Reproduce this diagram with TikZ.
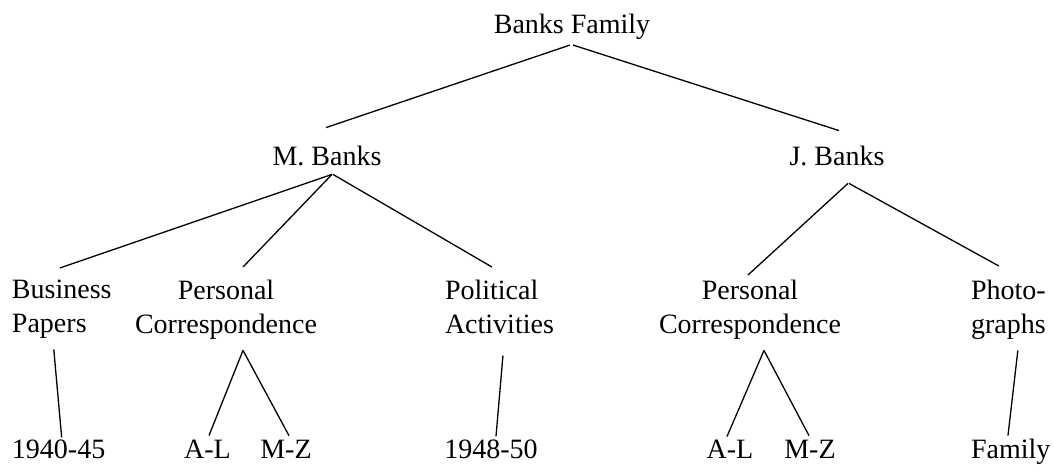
\documentclass[tikz,border=0pt]{standalone}
\usepackage{fontspec}
\setmainfont{Liberation Serif}
\usetikzlibrary{calc}
\begin{document}
\begin{tikzpicture}[x=1pt,y=-1pt,
  lbl/.style={inner sep=0pt,outer sep=0pt,font=\fontsize{28}{34}\selectfont},
  conn/.style={line width=1.3pt,black}]
\useasboundingbox (0,0) rectangle (1054,472);
% level 0
\node[lbl,anchor=base] (bf) at (572,33) {Banks Family};
% level 1
\node[lbl,anchor=base] (mb) at (327,165) {M. Banks};
\node[lbl,anchor=base] (jb) at (837,165) {J. Banks};
% level 2
\node[lbl,anchor=north west,align=left] (bp) at (12,280) {Business\\Papers};
\node[lbl,anchor=north,align=center] (pc) at (226,280) {Personal\\Correspondence};
\node[lbl,anchor=north west,align=left] (pa) at (445,280) {Political\\Activities};
\node[lbl,anchor=north,align=center] (pc2) at (750,280) {Personal\\Correspondence};
\node[lbl,anchor=north west,align=left] (ph) at (971,280) {Photo-\\graphs};
% level 3
\node[lbl,anchor=base west] (y1) at (12,458) {1940-45};
\node[lbl,anchor=base] (al1) at (207.5,458) {A-L};
\node[lbl,anchor=base] (mz1) at (286,458) {M-Z};
\node[lbl,anchor=base] (y2) at (491,458) {1948-50};
\node[lbl,anchor=base] (al2) at (730,458) {A-L};
\node[lbl,anchor=base] (mz2) at (810,458) {M-Z};
\node[lbl,anchor=base west] (fam) at (971,458) {Family};
% connectors
\draw[conn] ($(bf.south)+(-2,6)$) -- ($(mb.north)+(-1,-18)$);
\draw[conn] ($(bf.south)+(1,6)$) -- ($(jb.north)+(2,-15)$);
\draw[conn] ($(mb.south)+(5,9)$) -- ($(bp.north)+(-2,-12)$);
\draw[conn] ($(mb.south)+(5,9)$) -- ($(pc.north)+(17,-13)$);
\draw[conn] ($(mb.south)+(6,9)$) -- ($(pa.north)+(-7.5,-13)$);
\draw[conn] ($(jb.south)+(11,18)$) -- ($(pc2.north)+(-2,-5)$);
\draw[conn] ($(jb.south)+(12,18)$) -- ($(ph.north)+(-9.5,-14)$);
\draw[conn] ($(bp.south)+(-8,11)$) -- ($(y1.north)+(3,-2)$);
\draw[conn] ($(pc.south)+(17,11)$) -- ($(al1.north)+(1.5,-4)$);
\draw[conn] ($(pc.south)+(17,11)$) -- ($(mz1.north)+(3,-4)$);
\draw[conn] ($(pa.south)+(3.5,22)$) -- ($(y2.north)+(5,-3)$);
\draw[conn] ($(pc2.south)+(14,11)$) -- ($(al2.north)+(-3,-3)$);
\draw[conn] ($(pc2.south)+(14,11)$) -- ($(mz2.north)+(-1,-4)$);
\draw[conn] ($(ph.south)+(9.5,11)$) -- ($(fam.north)+(-2.7,-3)$);
\end{tikzpicture}
\end{document}
